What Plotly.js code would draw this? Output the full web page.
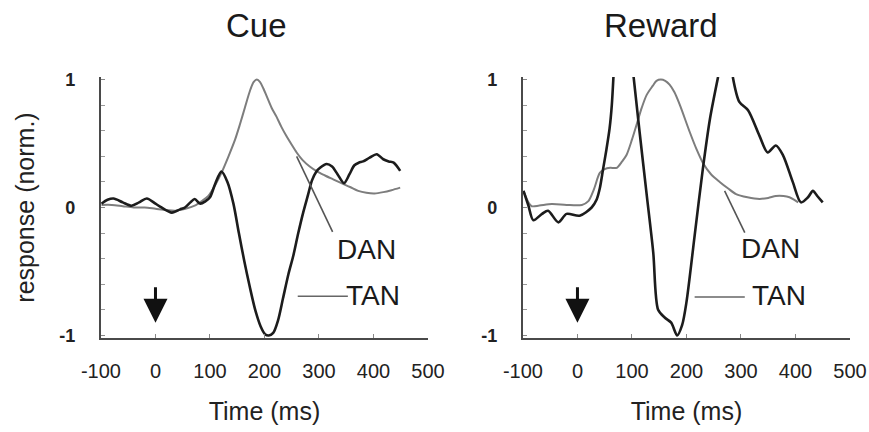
<!DOCTYPE html>
<html>
<head>
<meta charset="utf-8">
<script src="https://cdn.plot.ly/plotly-3.0.1.min.js"></script>
<style>html,body{margin:0;padding:0;background:#fff;}#chart{width:869px;height:432px;}</style>
</head>
<body>
<div id="chart"></div>
<script>
// ---- Data ----
// Cue panel
const cueTanTime = [-99, -88, -77, -60, -44, -30, -16, 0, 11, 30, 45, 54, 64, 72, 82, 92, 100, 110, 121, 132, 143, 153, 163, 173, 183, 193, 201, 208, 216, 225, 234, 244, 253, 262, 271, 280, 287, 295, 302, 314, 324, 334, 346, 356, 365, 373, 381, 393, 406, 418, 428, 437, 449];
const cueTanResp = [0.03, 0.06, 0.07, 0.04, 0.014, 0.04, 0.07, 0.03, 0.0, -0.04, -0.015, 0.0, 0.04, 0.066, 0.03, 0.05, 0.08, 0.19, 0.28, 0.20, 0.03, -0.20, -0.42, -0.62, -0.80, -0.93, -0.99, -1.0, -0.98, -0.88, -0.71, -0.52, -0.375, -0.20, -0.04, 0.10, 0.21, 0.28, 0.31, 0.34, 0.32, 0.26, 0.19, 0.26, 0.33, 0.35, 0.36, 0.39, 0.416, 0.377, 0.36, 0.35, 0.286];
const cueDanTime = [-99, -80, -60, -40, -20, 0, 20, 36, 55, 72, 85, 97, 109, 121, 134, 146, 155, 164, 174, 180, 186, 192, 198, 204, 213, 222, 231, 240, 250, 259, 270, 283, 297, 311, 326, 341, 357, 372, 387, 402, 418, 433, 449];
const cueDanResp = [0.02, 0.02, 0.01, 0.0, 0.0, -0.01, -0.02, -0.025, -0.01, 0.014, 0.05, 0.09, 0.17, 0.27, 0.40, 0.53, 0.65, 0.78, 0.92, 0.98, 1.0, 0.98, 0.93, 0.87, 0.78, 0.71, 0.63, 0.56, 0.49, 0.43, 0.37, 0.32, 0.28, 0.25, 0.22, 0.19, 0.16, 0.13, 0.115, 0.11, 0.12, 0.135, 0.155];

// Reward panel (null = trace leaves the top of the plot)
const rewTanTime = [-99, -90, -81, -65, -54, -35, -20, 4, 26, 35, 41, 47, 53, 59, 63, 66, null, 103, 114, 127, 139, 148, 160, 172, 183, 192, 200, 215, 230, 243, 258, null, 285, 297, 313, 334, 349, 364, 377, 395, 410, 423, 432, 440, 450];
const rewTanResp = [0.13, 0.014, -0.10, -0.05, -0.025, -0.116, -0.05, -0.064, 0.0, 0.06, 0.15, 0.30, 0.45, 0.62, 0.80, 1.02, null, 1.02, 0.59, 0.10, -0.35, -0.80, -0.86, -0.90, -1.0, -0.92, -0.74, -0.22, 0.30, 0.69, 1.02, null, 1.02, 0.825, 0.76, 0.56, 0.43, 0.485, 0.41, 0.20, 0.04, 0.08, 0.13, 0.09, 0.04];
const rewDanTime = [-99, -90, -84, -70, -47, -20, 8, 20, 30, 41, 50, 60, 72, 82, 90, 100, 108, 118, 127, 138, 145, 153, 161, 169, 178, 188, 206, 218, 230, 245, 261, 276, 291, 312, 334, 350, 364, 378, 389, 398, 405];
const rewDanResp = [0.13, 0.04, 0.01, 0.015, 0.027, 0.02, 0.02, 0.05, 0.14, 0.27, 0.30, 0.31, 0.31, 0.36, 0.41, 0.53, 0.64, 0.78, 0.88, 0.95, 0.99, 1.0, 0.99, 0.96, 0.90, 0.80, 0.59, 0.46, 0.35, 0.26, 0.20, 0.15, 0.105, 0.08, 0.067, 0.075, 0.09, 0.09, 0.08, 0.06, 0.04];

const panelTitles = ['Cue', 'Reward'];
const xTickVals = [-100, 0, 100, 200, 300, 400, 500];
const xTickText = ['-100', '0', '100', '200', '300', '400', '500'];
const yTickVals = [-1, 0, 1];
const yTickText = ['-1', '0', '1'];
const seriesNames = ['TAN', 'DAN'];
const cueMarkerTime = 0;

// ---- Styles ----
const FONT = 'Liberation Sans, Arial, Helvetica, sans-serif';
const TAN_COLOR = '#1c1c1c';
const DAN_COLOR = '#7d7d7d';
const AXIS_COLOR = '#4a4a4a';

function tanTrace(x, y, xa, ya) {
  return {x: x, y: y, xaxis: xa, yaxis: ya, type: 'scatter', mode: 'lines', name: seriesNames[0],
    connectgaps: false, line: {color: TAN_COLOR, width: 2.6, shape: 'spline', smoothing: 0.8}, hoverinfo: 'skip'};
}
function danTrace(x, y, xa, ya) {
  return {x: x, y: y, xaxis: xa, yaxis: ya, type: 'scatter', mode: 'lines', name: seriesNames[1],
    line: {color: DAN_COLOR, width: 2, shape: 'spline', smoothing: 0.8}, hoverinfo: 'skip'};
}

const traces = [
  danTrace(cueDanTime, cueDanResp, 'x', 'y'),
  tanTrace(cueTanTime, cueTanResp, 'x', 'y'),
  danTrace(rewDanTime, rewDanResp, 'x2', 'y2'),
  tanTrace(rewTanTime, rewTanResp, 'x2', 'y2')
];

function xAxis(domain, anchor) {
  return {
    domain: domain, anchor: anchor, range: [-100, 500], showgrid: false, zeroline: false,
    showline: true, linecolor: AXIS_COLOR, linewidth: 2,
    tickmode: 'array', tickvals: xTickVals, ticktext: xTickText,
    ticks: 'inside', ticklen: 4, tickwidth: 1, tickcolor: '#888',
    ticklabelstandoff: 14,
    tickfont: {family: FONT, size: 20, color: '#222'},
    title: {text: 'Time (ms)', font: {family: FONT, size: 25, color: '#222'}, standoff: 22},
    automargin: false, fixedrange: true
  };
}
function yAxis(domain, anchor, withTitle) {
  const ax = {
    domain: domain, anchor: anchor, range: [-1.02, 1.02], showgrid: false, zeroline: false,
    showline: true, linecolor: AXIS_COLOR, linewidth: 2,
    tickmode: 'array', tickvals: yTickVals, ticktext: yTickText,
    ticks: 'inside', ticklen: 4, tickwidth: 1, tickcolor: '#888',
    minor: {dtick: 0.2, tick0: 0, ticks: 'inside', ticklen: 4, tickwidth: 1, tickcolor: '#999'},
    ticklabelstandoff: 20,
    tickfont: {family: FONT, size: 18, color: '#222', weight: 'bold'},
    automargin: false, fixedrange: true
  };
  if (withTitle) {
    ax.title = {text: 'response (norm.)', font: {family: FONT, size: 25, color: '#222'}, standoff: 18};
  }
  return ax;
}

const yDom = [0.2176, 0.8218];

const layout = {
  width: 869, height: 432,
  margin: {l: 0, r: 0, t: 0, b: 0},
  paper_bgcolor: '#fff', plot_bgcolor: '#fff',
  showlegend: false,
  font: {family: FONT, color: '#222'},
  xaxis: xAxis([0.1162, 0.4925], 'y'),
  yaxis: yAxis(yDom, 'x', true),
  xaxis2: xAxis([0.6018, 0.9781], 'y2'),
  yaxis2: yAxis(yDom, 'x2', false),
  annotations: [
    {text: panelTitles[0], xref: 'paper', yref: 'paper', x: 0.2957, y: 0.94, xanchor: 'center', yanchor: 'middle', showarrow: false, font: {family: FONT, size: 33, color: '#1a1a1a'}},
    {text: panelTitles[1], xref: 'paper', yref: 'paper', x: 0.7606, y: 0.94, xanchor: 'center', yanchor: 'middle', showarrow: false, font: {family: FONT, size: 33, color: '#1a1a1a'}},
    // stimulus arrows
    {text: '', xref: 'x', yref: 'y', x: cueMarkerTime, y: -0.9, ax: 0, ay: -37, showarrow: true, arrowhead: 2, arrowsize: 1.6, arrowwidth: 3, arrowcolor: '#111'},
    {text: '', xref: 'x2', yref: 'y2', x: cueMarkerTime, y: -0.9, ax: 0, ay: -37, showarrow: true, arrowhead: 2, arrowsize: 1.6, arrowwidth: 3, arrowcolor: '#111'},
    // series labels
    {text: seriesNames[1], xref: 'x', yref: 'y', x: 387, y: -0.33, showarrow: false, xanchor: 'center', yanchor: 'middle', font: {family: FONT, size: 28, color: '#1a1a1a'}},
    {text: seriesNames[0], xref: 'x', yref: 'y', x: 399, y: -0.69, showarrow: false, xanchor: 'center', yanchor: 'middle', font: {family: FONT, size: 28, color: '#1a1a1a'}},
    {text: seriesNames[1], xref: 'x2', yref: 'y2', x: 355, y: -0.32, showarrow: false, xanchor: 'center', yanchor: 'middle', font: {family: FONT, size: 28, color: '#1a1a1a'}},
    {text: seriesNames[0], xref: 'x2', yref: 'y2', x: 369, y: -0.69, showarrow: false, xanchor: 'center', yanchor: 'middle', font: {family: FONT, size: 28, color: '#1a1a1a'}}
  ],
  shapes: [
    {type: 'line', xref: 'x', yref: 'y', x0: 259, y0: 0.40, x1: 325, y1: -0.19, line: {color: '#555', width: 1.6}},
    {type: 'line', xref: 'x', yref: 'y', x0: 261, y0: -0.694, x1: 353, y1: -0.694, line: {color: '#666', width: 1.6}},
    {type: 'line', xref: 'x2', yref: 'y2', x0: 270, y0: 0.13, x1: 307, y1: -0.196, line: {color: '#555', width: 1.6}},
    {type: 'line', xref: 'x2', yref: 'y2', x0: 215, y0: -0.70, x1: 307, y1: -0.70, line: {color: '#666', width: 1.6}}
  ]
};

Plotly.newPlot('chart', traces, layout, {staticPlot: true, displayModeBar: false});
</script>
</body>
</html>
